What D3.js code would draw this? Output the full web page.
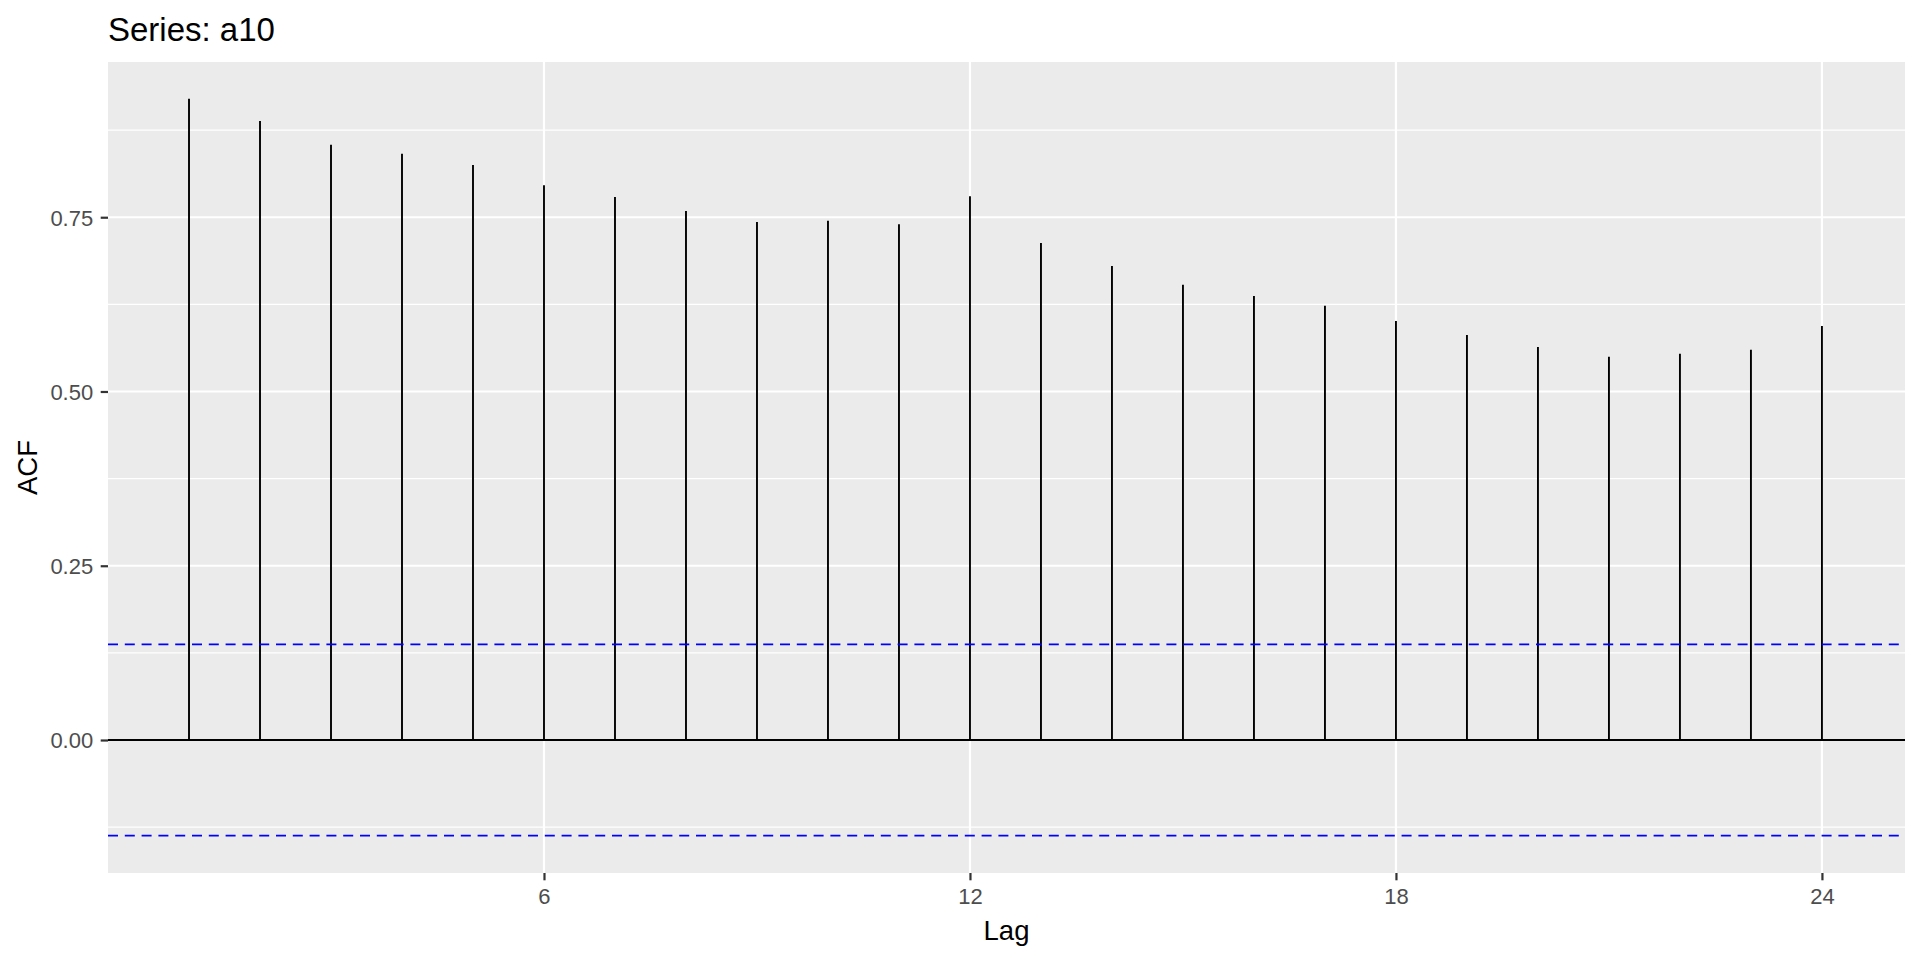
<!DOCTYPE html>
<html>
<head>
<meta charset="utf-8">
<script src="https://cdn.jsdelivr.net/npm/d3@7"></script>
<style>
  html, body { margin: 0; padding: 0; background: #ffffff; }
  svg { display: block; font-family: "Liberation Sans", Arial, sans-serif; }
</style>
</head>
<body>
<svg id="chart" width="1920" height="960"></svg>
<script>
// ---- data ----
const title = "Series: a10";
const lags = [1,2,3,4,5,6,7,8,9,10,11,12,13,14,15,16,17,18,19,20,21,22,23,24];
const acfValues = [0.920,0.888,0.854,0.841,0.825,0.796,0.779,0.759,0.743,0.745,0.740,0.780,
                   0.713,0.680,0.653,0.637,0.623,0.601,0.581,0.564,0.550,0.554,0.560,0.594];
const ciBound = 0.1372;
const xTicks = [6, 12, 18, 24];
const yTicks = [0, 0.25, 0.5, 0.75];
const yMinorTicks = [-0.125, 0.125, 0.375, 0.625, 0.875];
const xDomain = [-0.141, 25.17];
const yDomain = [-0.1908, 0.9727];

// ---- layout ----
const panel = { left: 108, top: 62, right: 1905, bottom: 873 };
const svg = d3.select("#chart");

const x = d3.scaleLinear().domain(xDomain).range([panel.left, panel.right]);
const y = d3.scaleLinear().domain(yDomain).range([panel.bottom, panel.top]);

// panel background
svg.append("rect")
  .attr("x", panel.left).attr("y", panel.top)
  .attr("width", panel.right - panel.left).attr("height", panel.bottom - panel.top)
  .attr("fill", "#EBEBEB");

const grid = svg.append("g");
// minor horizontal grid
grid.selectAll("line.minor").data(yMinorTicks).join("line")
  .attr("class", "minor")
  .attr("x1", panel.left).attr("x2", panel.right)
  .attr("y1", d => y(d)).attr("y2", d => y(d))
  .attr("stroke", "#ffffff").attr("stroke-width", 1.1);
// major horizontal grid
grid.selectAll("line.majory").data(yTicks).join("line")
  .attr("class", "majory")
  .attr("x1", panel.left).attr("x2", panel.right)
  .attr("y1", d => y(d)).attr("y2", d => y(d))
  .attr("stroke", "#ffffff").attr("stroke-width", 2.2);
// major vertical grid
grid.selectAll("line.majorx").data(xTicks).join("line")
  .attr("class", "majorx")
  .attr("y1", panel.top).attr("y2", panel.bottom)
  .attr("x1", d => x(d)).attr("x2", d => x(d))
  .attr("stroke", "#ffffff").attr("stroke-width", 2.2);

// zero line
svg.append("line")
  .attr("x1", panel.left).attr("x2", panel.right)
  .attr("y1", y(0)).attr("y2", y(0))
  .attr("stroke", "#000000").attr("stroke-width", 2);

// ACF segments
svg.append("g").selectAll("line").data(lags).join("line")
  .attr("x1", d => x(d)).attr("x2", d => x(d))
  .attr("y1", y(0)).attr("y2", (d, i) => y(acfValues[i]))
  .attr("stroke", "#000000").attr("stroke-width", 1.9);

// confidence bounds
svg.append("g").selectAll("line").data([ciBound, -ciBound]).join("line")
  .attr("x1", panel.left).attr("x2", panel.right)
  .attr("y1", d => y(d)).attr("y2", d => y(d))
  .attr("stroke", "#0000FF").attr("stroke-width", 1.6)
  .attr("stroke-dasharray", "10,6.8");

// y axis
const yAxis = svg.append("g")
  .attr("transform", `translate(${panel.left},0)`)
  .call(d3.axisLeft(y).tickValues(yTicks).tickFormat(d3.format(".2f")).tickSize(7.3).tickPadding(7.5));
yAxis.select(".domain").remove();
yAxis.selectAll(".tick line").attr("stroke", "#333333").attr("stroke-width", 2.2);
yAxis.selectAll(".tick text")
  .attr("fill", "#4D4D4D").attr("font-size", "22px")
  .attr("font-family", "'Liberation Sans', Arial, sans-serif")
  .attr("dy", "0.36em");

// x axis
const xAxis = svg.append("g")
  .attr("transform", `translate(0,${panel.bottom})`)
  .call(d3.axisBottom(x).tickValues(xTicks).tickFormat(d3.format("d")).tickSize(7.3).tickPadding(8));
xAxis.select(".domain").remove();
xAxis.selectAll(".tick line").attr("stroke", "#333333").attr("stroke-width", 2.2);
xAxis.selectAll(".tick text")
  .attr("fill", "#4D4D4D").attr("font-size", "22px")
  .attr("font-family", "'Liberation Sans', Arial, sans-serif")
  .attr("dy", "0.71em");

// axis titles
svg.append("text")
  .attr("x", (panel.left + panel.right) / 2).attr("y", 940)
  .attr("text-anchor", "middle").attr("font-size", "27.5px").attr("fill", "#000000")
  .text("Lag");
svg.append("text")
  .attr("transform", `translate(37,${(panel.top + panel.bottom) / 2}) rotate(-90)`)
  .attr("text-anchor", "middle").attr("font-size", "27.5px").attr("fill", "#000000")
  .text("ACF");

// title
svg.append("text")
  .attr("x", panel.left).attr("y", 41)
  .attr("font-size", "33px").attr("fill", "#000000")
  .text(title);
</script>
</body>
</html>
